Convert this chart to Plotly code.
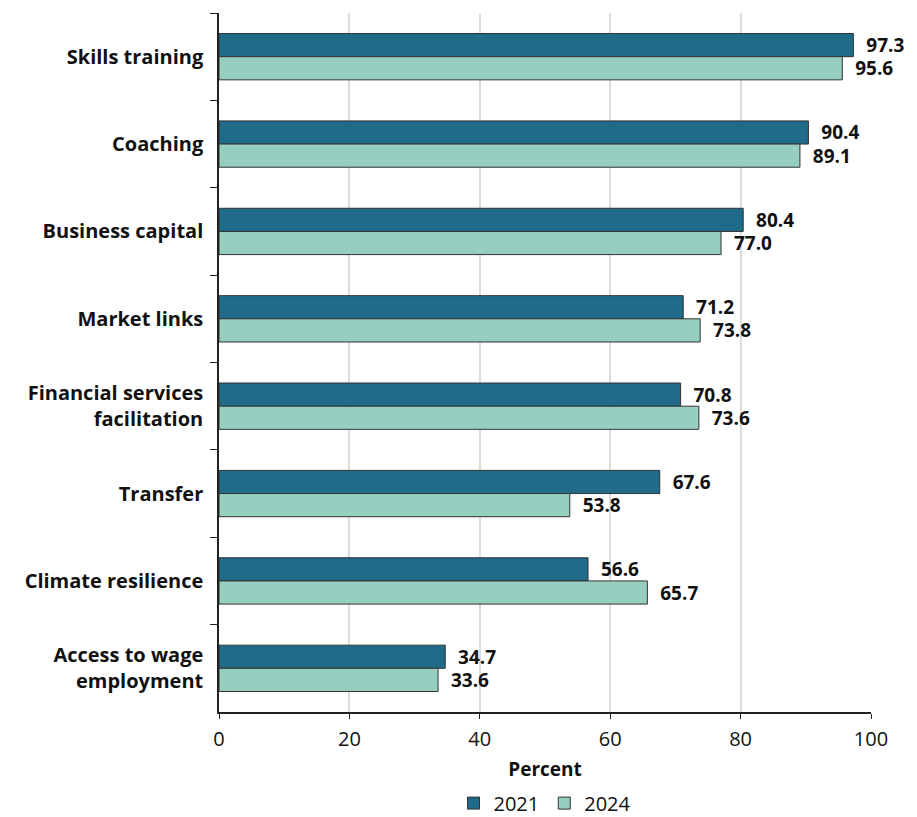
import plotly.graph_objects as go

categories = [
    "Skills training",
    "Coaching",
    "Business capital",
    "Market links",
    "Financial services<br>facilitation",
    "Transfer",
    "Climate resilience",
    "Access to wage<br>employment",
]
values_2021 = [97.3, 90.4, 80.4, 71.2, 70.8, 67.6, 56.6, 34.7]
values_2024 = [95.6, 89.1, 77.0, 73.8, 73.6, 53.8, 65.7, 33.6]
x_ticks = [0, 20, 40, 60, 80, 100]

FONT = "'Open Sans', sans-serif"
DARK = "#206a8a"
LIGHT = "#96cfc0"

fig = go.Figure()
for name, vals, col in [("2021", values_2021, DARK), ("2024", values_2024, LIGHT)]:
    fig.add_trace(go.Bar(
        name=name, y=categories, x=vals, orientation="h",
        marker=dict(color=col, line=dict(color="#333333", width=1)),
        text=[f"{v:.1f}" for v in vals],
        texttemplate="  %{text}",
        textposition="outside",
        constraintext="none",
        textfont=dict(family=FONT, size=19, color="#111111", weight="bold"),
        cliponaxis=False,
    ))

fig.update_layout(
    width=917, height=817,
    margin=dict(l=219, r=46, t=13, b=105),
    barmode="group", bargap=0.47, bargroupgap=0,
    plot_bgcolor="white", paper_bgcolor="white",
    font=dict(family=FONT, color="#111111"),
    # legend placed against the page so it does not push the bottom margin
    legend=dict(orientation="h", x=0.5, xanchor="center",
                yref="container", y=0.017, yanchor="middle",
                font=dict(size=20), itemwidth=30, traceorder="normal"),
    xaxis=dict(
        range=[0, 100], tickvals=x_ticks, showgrid=True, gridcolor="#dcdcdc", gridwidth=2,
        zeroline=False, showline=True, linecolor="#222222", linewidth=1.5,
        ticks="outside", ticklen=5, tickcolor="#222222", automargin=False,
        ticklabelstandoff=3,
        tickfont=dict(size=20),
        title=dict(text="<b>Percent</b>", font=dict(size=19), standoff=12),
    ),
    yaxis=dict(
        autorange="reversed", showline=True, linecolor="#222222", linewidth=1.5,
        ticks="outside", ticklen=7, tickcolor="#222222", tickson="boundaries",
        ticklabelstandoff=10,
        tickfont=dict(size=20, weight="bold"), showgrid=False, automargin=False,
    ),
)

# drop the default 8px page margin so the figure sits at the window corner
fig.write_html("out.html", config={"displayModeBar": False},
               post_script="document.body.style.margin='0';")
